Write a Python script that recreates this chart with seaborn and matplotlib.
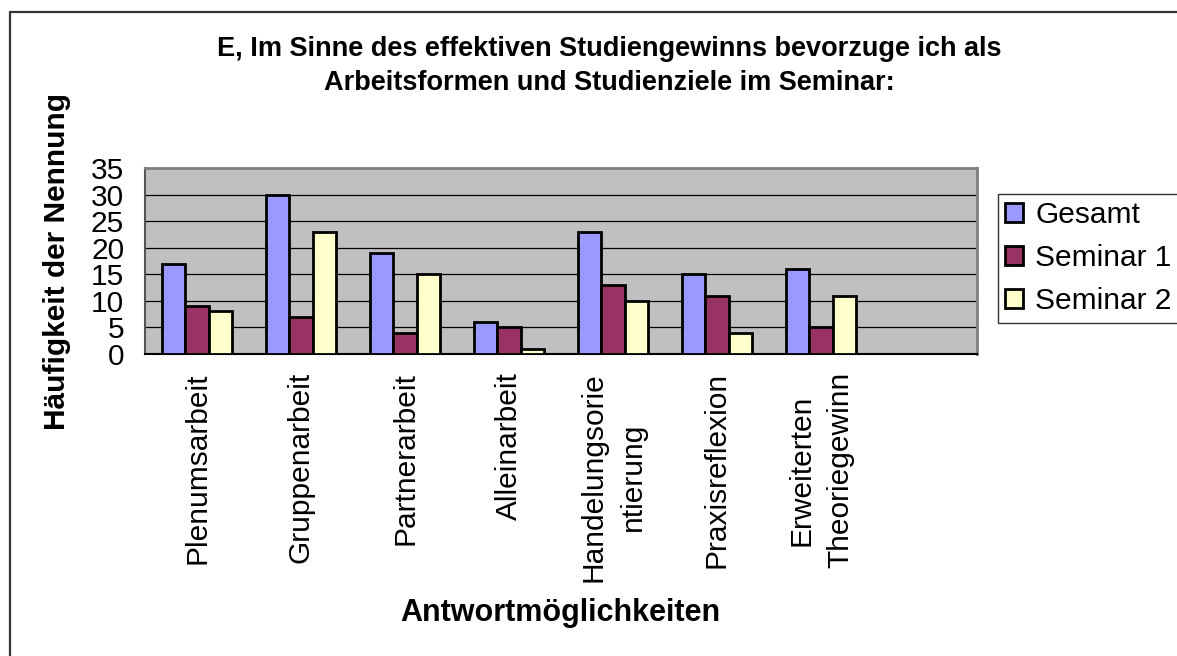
import matplotlib
matplotlib.use("Agg")
import matplotlib.pyplot as plt
from matplotlib.lines import Line2D
from matplotlib.ticker import FixedLocator, NullFormatter
import seaborn as sns
import pandas as pd
import numpy as np

categories = ["Plenumsarbeit", "Gruppenarbeit", "Partnerarbeit", "Alleinarbeit",
              "Handelungsorie\nntierung", "Praxisreflexion", "Erweiterten\nTheoriegewinn"]
series_names = ["Gesamt", "Seminar 1", "Seminar 2"]
gesamt = [17, 30, 19, 6, 23, 15, 16]
seminar1 = [9, 7, 4, 5, 13, 11, 5]
seminar2 = [8, 23, 15, 1, 10, 4, 11]
colors = ["#9999FF", "#993366", "#FFFFCC"]
y_ticks = [0, 5, 10, 15, 20, 25, 30, 35]

title = "E, Im Sinne des effektiven Studiengewinns bevorzuge ich als\nArbeitsformen und Studienziele im Seminar:"
xlabel = "Antwortmöglichkeiten"
ylabel = "Häufigkeit der Nennung"

rows = []
for name, vals in zip(series_names, [gesamt, seminar1, seminar2]):
    for c, v in zip(categories, vals):
        rows.append({"Kategorie": c, "Serie": name, "Wert": v})
df = pd.DataFrame(rows)

sns.set_style("white")
plt.rcParams["font.family"] = ["Liberation Sans", "DejaVu Sans"]
plt.rcParams["text.color"] = "black"
plt.rcParams["xtick.color"] = "black"
plt.rcParams["ytick.color"] = "black"
plt.rcParams["xtick.labelcolor"] = "black"
plt.rcParams["ytick.labelcolor"] = "black"

W, H = 1177, 656
fig = plt.figure(figsize=(W / 100, H / 100), dpi=100)
fig.patch.set_facecolor("white")

L, R, T, B = 145, 977, 168, 354
ax = fig.add_axes([L / W, 1 - B / H, (R - L) / W, (B - T) / H])
ax.set_facecolor("#C0C0C0")

sns.barplot(data=df, x="Kategorie", y="Wert", hue="Serie", order=categories,
            hue_order=series_names, palette=colors, saturation=1, width=0.67,
            edgecolor="black", linewidth=2, errorbar=None, ax=ax, zorder=3)

ax.set_xlim(-0.5, 7.5)
ax.set_ylim(0, 35)
ax.set_yticks(y_ticks)
ax.set_yticklabels([str(t) for t in y_ticks], fontsize=21.5)
ax.grid(axis="y", color="black", linewidth=0.9, zorder=1)
ax.grid(axis="x", visible=False)
ax.set_axisbelow(True)

ax.set_xticks(range(len(categories)))
ax.set_xticklabels(categories, rotation=90, fontsize=21.5, va="top", ha="center",
                   multialignment="center", linespacing=1.5)
ax.tick_params(axis="x", which="major", length=0, pad=13)
ax.xaxis.set_minor_locator(FixedLocator(np.arange(-0.5, 8.0, 1.0)))
ax.xaxis.set_minor_formatter(NullFormatter())
ax.tick_params(axis="x", which="minor", length=7, width=1.2, color="#333333", direction="out")
ax.tick_params(axis="y", length=7, width=1.2, color="#333333", direction="out", pad=8)

ax.set_xlabel("")
ax.set_ylabel("")

for s in ["top", "right"]:
    ax.spines[s].set_color("#808080")
    ax.spines[s].set_linewidth(2)
ax.spines["left"].set_color("#555555")
ax.spines["left"].set_linewidth(1.5)
ax.spines["bottom"].set_color("black")
ax.spines["bottom"].set_linewidth(1.5)

handles, labels = ax.get_legend_handles_labels()
if ax.get_legend() is not None:
    ax.get_legend().remove()
leg = fig.legend(handles, labels, loc="upper left",
                 bbox_to_anchor=(998 / W, 1 - 194 / H), bbox_transform=fig.transFigure,
                 fontsize=21.5, frameon=True, fancybox=False, edgecolor="black",
                 handlelength=0.6, handleheight=0.6, handletextpad=0.4,
                 labelspacing=0.5, borderpad=0.25, borderaxespad=0)
leg.get_frame().set_linewidth(1.0)
for h in leg.legend_handles:
    h.set_edgecolor("black")
    h.set_linewidth(2)

fig.text(609 / W, 1 - 66 / H, title, ha="center", va="center", fontsize=19.5,
         fontweight="bold", linespacing=1.45)
fig.text(560 / W, 1 - 613 / H, xlabel, ha="center", va="center", fontsize=22,
         fontweight="bold")
fig.text(57 / W, 1 - 262 / H, ylabel, ha="center", va="center", fontsize=21.5,
         fontweight="bold", rotation=90)

fig.add_artist(Line2D([10 / W, 10 / W], [0, 1 - 12 / H], transform=fig.transFigure,
                      color="#333333", linewidth=1.6))
fig.add_artist(Line2D([10 / W, 1], [1 - 12 / H, 1 - 12 / H], transform=fig.transFigure,
                      color="#333333", linewidth=1.6))

fig.savefig("out.png", dpi=100, facecolor="white")
